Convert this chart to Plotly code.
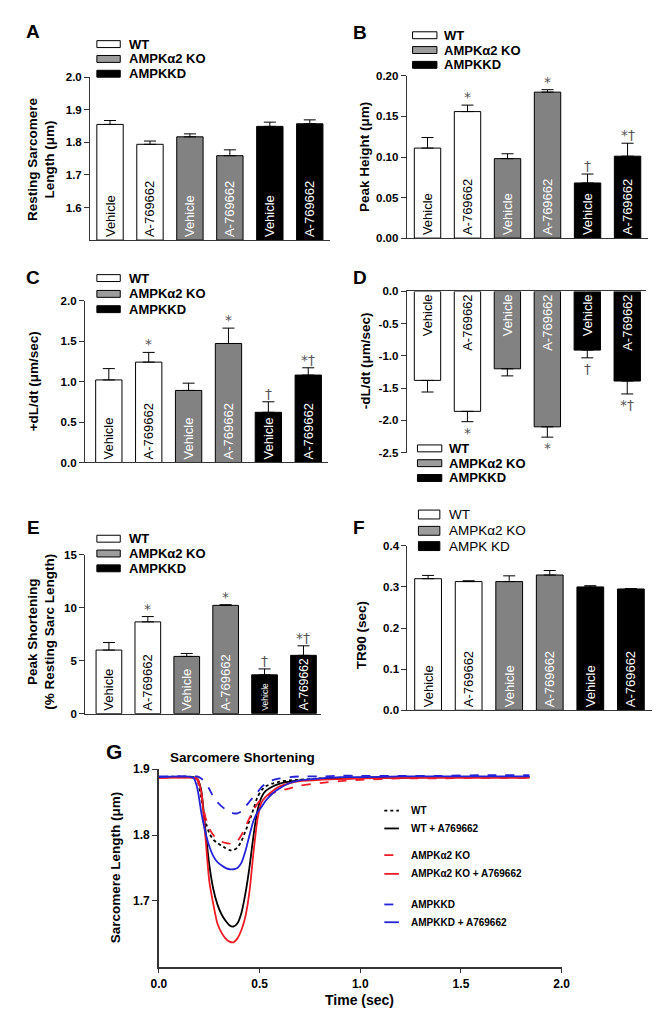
import plotly.graph_objects as go

W, H = 663, 1015


def px(x):
    return x / W


def py(y):
    return 1 - y / H


# ---------------- data ----------------
bar_labels = ["Vehicle", "A-769662", "Vehicle", "A-769662", "Vehicle", "A-769662"]
legend_names = ["WT", "AMPKα2 KO", "AMPKKD"]
legend_names_F = ["WT", "AMPKα2 KO", "AMPK KD"]

A_mean = [1.855, 1.794, 1.817, 1.759, 1.849, 1.857]
A_sem = [0.012, 0.010, 0.009, 0.018, 0.013, 0.012]
B_mean = [0.111, 0.156, 0.098, 0.180, 0.068, 0.101]
B_sem = [0.013, 0.008, 0.006, 0.003, 0.011, 0.016]
C_mean = [1.02, 1.24, 0.89, 1.47, 0.62, 1.08]
C_sem = [0.14, 0.12, 0.09, 0.19, 0.13, 0.09]
D_mean = [-1.38, -1.86, -1.20, -2.10, -0.91, -1.39]
D_sem = [0.18, 0.16, 0.11, 0.16, 0.12, 0.20]
E_mean = [6.0, 8.66, 5.40, 10.22, 3.66, 5.50]
E_sem = [0.71, 0.50, 0.28, 0.06, 0.56, 0.90]
F_mean = [0.320, 0.313, 0.313, 0.329, 0.300, 0.295]
F_sem = [0.008, 0.002, 0.014, 0.011, 0.003, 0.001]

B_marks = ["", "*", "", "*", "†", "*†"]
C_marks = ["", "*", "", "*", "†", "*†"]
D_marks = ["", "*", "", "*", "†", "*†"]
E_marks = ["", "*", "", "*", "†", "*†"]

# Sarcomere shortening traces (panel G)
t_sec = [0.00, 0.17, 0.19, 0.21, 0.23, 0.25, 0.27, 0.29, 0.31, 0.33, 0.35, 0.37,
         0.39, 0.41, 0.43, 0.45, 0.47, 0.49, 0.51, 0.53, 0.56, 0.60, 0.65, 0.70,
         0.80, 0.90, 1.00, 1.20, 1.40, 1.60, 1.84]
wt = [1.888, 1.888, 1.884, 1.856, 1.822, 1.803, 1.793, 1.788, 1.784, 1.780, 1.777, 1.777,
      1.781, 1.791, 1.806, 1.822, 1.840, 1.858, 1.868, 1.874, 1.878, 1.881, 1.883, 1.884,
      1.886, 1.887, 1.887, 1.888, 1.888, 1.888, 1.888]
wt_a = [1.888, 1.888, 1.886, 1.868, 1.810, 1.755, 1.718, 1.695, 1.680, 1.670, 1.663, 1.661,
        1.666, 1.682, 1.712, 1.752, 1.800, 1.838, 1.858, 1.867, 1.873, 1.878, 1.881, 1.883,
        1.885, 1.886, 1.887, 1.887, 1.888, 1.888, 1.888]
ko = [1.887, 1.887, 1.884, 1.861, 1.828, 1.810, 1.800, 1.793, 1.790, 1.788, 1.787, 1.787,
      1.791, 1.800, 1.813, 1.826, 1.838, 1.848, 1.855, 1.859, 1.863, 1.867, 1.871, 1.875,
      1.879, 1.882, 1.884, 1.886, 1.886, 1.887, 1.887]
ko_a = [1.887, 1.887, 1.886, 1.866, 1.800, 1.730, 1.695, 1.666, 1.652, 1.643, 1.638, 1.637,
        1.643, 1.656, 1.677, 1.715, 1.775, 1.825, 1.850, 1.858, 1.866, 1.874, 1.879, 1.882,
        1.884, 1.885, 1.886, 1.887, 1.887, 1.887, 1.887]
kd = [1.889, 1.889, 1.889, 1.886, 1.880, 1.870, 1.858, 1.850, 1.844, 1.839, 1.835, 1.833,
      1.833, 1.836, 1.843, 1.851, 1.858, 1.865, 1.873, 1.878, 1.883, 1.886, 1.888, 1.889,
      1.889, 1.890, 1.890, 1.890, 1.890, 1.891, 1.891]
kd_a = [1.888, 1.887, 1.872, 1.835, 1.805, 1.783, 1.768, 1.759, 1.754, 1.750, 1.748, 1.748,
        1.750, 1.758, 1.776, 1.800, 1.822, 1.835, 1.843, 1.852, 1.862, 1.871, 1.879, 1.883,
        1.886, 1.888, 1.888, 1.889, 1.889, 1.889, 1.889]
g_names = ["WT", "WT + A769662", "AMPKα2 KO", "AMPKα2 KO + A769662", "AMPKKD", "AMPKKD + A769662"]

# ---------------- style ----------------
FONT = "Liberation Sans, Arial, Helvetica, sans-serif"
MARK_FONT = "DejaVu Sans"
GRAY = "#828282"
LEG_GRAY = "#9c9c9c"
bar_colors = ["white", "white", GRAY, GRAY, "black", "black"]
text_colors = ["black", "black", "white", "white", "white", "white"]
AX = "#333333"

fig = go.Figure()
annotations = []
shapes = []

panels = [
    dict(ax="", mean=A_mean, sem=A_sem, base=1.5, xd=(76, 322), yd=(63, 228), xr=[-0.5, 5.5],
         yr=[1.5, 2.0], tv=[1.6, 1.7, 1.8, 1.9, 2.0], tt=["1.6", "1.7", "1.8", "1.9", "2.0"],
         marks=None, sizes=[13] * 6),
    dict(ax="2", mean=B_mean, sem=B_sem, base=0, xd=(401, 649), yd=(61.7, 226), xr=[-0.52, 5.52],
         yr=[0, 0.2], tv=[0, 0.05, 0.1, 0.15, 0.2], tt=["0.00", "0.05", "0.10", "0.15", "0.20"],
         marks=B_marks, sizes=[13] * 6),
    dict(ax="3", mean=C_mean, sem=C_sem, base=0, xd=(70.7, 320), yd=(289.3, 453.3), xr=[-0.6, 5.49],
         yr=[0, 2.0], tv=[0, 0.5, 1.0, 1.5, 2.0], tt=["0.0", "0.5", "1.0", "1.5", "2.0"],
         marks=C_marks, sizes=[13] * 6),
    dict(ax="4", mean=D_mean, sem=D_sem, base=0, xd=(401, 647), yd=(280, 443.3), xr=[-0.52, 5.48],
         yr=[-2.5, 0], tv=[-2.5, -2.0, -1.5, -1.0, -0.5, 0],
         tt=["-2.5", "-2.0", "-1.5", "-1.0", "-0.5", "0.0"], marks=D_marks, sizes=[13] * 6),
    dict(ax="5", mean=E_mean, sem=E_sem, base=0, xd=(71, 313), yd=(546.7, 707.7), xr=[-0.61, 5.45],
         yr=[0, 15], tv=[0, 5, 10, 15], tt=["0", "5", "10", "15"], marks=E_marks,
         sizes=[13, 13, 13, 13, 8.5, 13]),
    dict(ax="6", mean=F_mean, sem=F_sem, base=0, xd=(401.7, 652.7), yd=(537.7, 704.3), xr=[-0.51, 5.52],
         yr=[0, 0.4], tv=[0, 0.1, 0.2, 0.3, 0.4], tt=["0.0", "0.1", "0.2", "0.3", "0.4"],
         marks=None, sizes=[13] * 6),
]

layout_axes = {}
for p in panels:
    neg = p["mean"][0] < 0
    if p["base"]:
        yvals = [m - p["base"] for m in p["mean"]]
        base = p["base"]
    else:
        yvals = p["mean"]
        base = None
    err = dict(type="data", symmetric=False, color="black", thickness=1, width=6, visible=True)
    if neg:
        err["array"] = [0] * 6
        err["arrayminus"] = p["sem"]
    else:
        err["array"] = p["sem"]
        err["arrayminus"] = [0] * 6
    fig.add_trace(go.Bar(
        x=list(range(6)), y=yvals, base=base, width=0.66,
        marker=dict(color=bar_colors, line=dict(color="black", width=1)),
        text=bar_labels, textposition="inside", insidetextanchor="start", textangle=-90,
        textfont=dict(family=FONT, size=p["sizes"], color=text_colors),
        error_y=err, xaxis="x" + p["ax"], yaxis="y" + p["ax"], showlegend=False,
        cliponaxis=False, hoverinfo="skip",
    ))
    xa = dict(domain=[px(p["xd"][0]), px(p["xd"][1])], range=p["xr"], showline=True,
              linecolor=AX, linewidth=1, showticklabels=False, ticks="", showgrid=False,
              zeroline=False, anchor="y" + p["ax"], fixedrange=True)
    if neg:
        xa["side"] = "top"
    ya = dict(domain=[py(p["yd"][1]), py(p["yd"][0])], range=p["yr"], showline=True,
              linecolor=AX, linewidth=1, ticks="outside", ticklen=5, tickwidth=1, tickcolor=AX,
              tickvals=p["tv"], ticktext=p["tt"], showgrid=False, zeroline=False,
              tickfont=dict(family=FONT, size=11.5, color="black", weight="bold"),
              anchor="x" + p["ax"], fixedrange=True)
    layout_axes["xaxis" + p["ax"]] = xa
    layout_axes["yaxis" + p["ax"]] = ya
    if p["marks"]:
        for i, mk in enumerate(p["marks"]):
            if not mk:
                continue
            if neg:
                annotations.append(dict(x=i, y=p["mean"][i] - p["sem"][i], xref="x" + p["ax"],
                                        yref="y" + p["ax"], text=mk, showarrow=False,
                                        yanchor="top", yshift=-1,
                                        font=dict(family=MARK_FONT, size=14, color="#555555")))
            else:
                annotations.append(dict(x=i, y=p["mean"][i] + p["sem"][i], xref="x" + p["ax"],
                                        yref="y" + p["ax"], text=mk, showarrow=False,
                                        yanchor="bottom", yshift=-2,
                                        font=dict(family=MARK_FONT, size=14, color="#555555")))

# ---------- panel G ----------
g_series = [wt, wt_a, ko, ko_a, kd, kd_a]
g_colors = ["black", "black", "#ee1c25", "#ee1c25", "#2424d6", "#2424d6"]
g_dash = ["dot", "solid", "dash", "solid", "dash", "solid"]
for name, ys, c, d in zip(g_names, g_series, g_colors, g_dash):
    fig.add_trace(go.Scatter(x=t_sec, y=ys, mode="lines", name=name, showlegend=False,
                             line=dict(color=c, dash=d, width=1.8, shape="spline", smoothing=0.6),
                             xaxis="x7", yaxis="y7", hoverinfo="skip"))

layout_axes["xaxis7"] = dict(domain=[px(146.7), px(560)], range=[0, 2.0], showline=True,
                             linecolor=AX, linewidth=1.6, ticks="outside", ticklen=5, tickwidth=1.2,
                             tickcolor=AX, tickvals=[0, 0.5, 1.0, 1.5, 2.0],
                             ticktext=["0.0", "0.5", "1.0", "1.5", "2.0"], showgrid=False,
                             zeroline=False, anchor="y7", fixedrange=True,
                             tickfont=dict(family=FONT, size=12, color="black", weight="bold"))
layout_axes["yaxis7"] = dict(domain=[py(964), py(764)], range=[1.6, 1.9], showline=True,
                             linecolor=AX, linewidth=1.6, ticks="outside", ticklen=5, tickwidth=1.2,
                             tickcolor=AX, tickvals=[1.7, 1.8, 1.9], ticktext=["1.7", "1.8", "1.9"],
                             showgrid=False, zeroline=False, anchor="x7", fixedrange=True,
                             tickfont=dict(family=FONT, size=12, color="black", weight="bold"))


def text_ann(x, y, text, size, bold=True, angle=0, xanchor="center", yanchor="middle", color="black"):
    annotations.append(dict(x=px(x), y=py(y), xref="paper", yref="paper", text=text,
                            showarrow=False, textangle=angle, xanchor=xanchor, yanchor=yanchor,
                            font=dict(family=FONT, size=size, color=color,
                                      weight="bold" if bold else "normal")))


# panel letters
for lab, x, y, s in [("A", 17, 17, 19), ("B", 353, 17.5, 19), ("C", 17.5, 265.5, 19),
                     ("D", 353, 266, 19), ("E", 17.5, 519, 19), ("F", 352, 519, 19),
                     ("G", 101, 746, 21)]:
    text_ann(x, y, lab, s)

# y-axis titles
text_ann(26, 145.5, "Resting Sarcomere<br>Length (μm)", 13.5, angle=-90)
text_ann(357, 144, "Peak Height (μm)", 13.5, angle=-90)
text_ann(17.5, 371, "+dL/dt (μm/sec)", 13.5, angle=-90)
text_ann(359, 350, "-dL/dt (μm/sec)", 13.5, angle=-90)
text_ann(26.5, 625, "Peak Shortening<br>(% Resting Sarc Length)", 13.5, angle=-90)
text_ann(355.5, 628, "TR90 (sec)", 13.5, angle=-90)
text_ann(103, 863, "Sarcomere Length (μm)", 13.5, angle=-90)
text_ann(353, 998, "Time (sec)", 14)
text_ann(232, 752, "Sarcomere Shortening", 13.5)

# bar legends
leg_fills = ["white", LEG_GRAY, "black"]


def bar_legend(bx0, bx1, ys, tx, h, names, bold, size):
    for yc, fill, nm in zip(ys, leg_fills, names):
        shapes.append(dict(type="rect", xref="paper", yref="paper", x0=px(bx0), x1=px(bx1),
                           y0=py(yc + h / 2), y1=py(yc - h / 2), fillcolor=fill,
                           line=dict(color="black", width=1)))
        text_ann(tx, yc, nm, size, bold=bold, xanchor="left")


bar_legend(83, 107, [29.5, 44.5, 59.5], 114, 7, legend_names, True, 13)
bar_legend(407, 432, [20.5, 35.5, 50.5], 437, 7, legend_names, True, 13)
bar_legend(83, 107, [266.5, 282.5, 298], 114, 7, legend_names, True, 13)
bar_legend(412, 437, [439, 454, 469], 442, 7, legend_names, True, 13)
bar_legend(83, 107, [530.5, 545.5, 560.5], 114, 7, legend_names, True, 13)
bar_legend(413, 435, [506, 522.5, 538], 442, 9, legend_names_F, False, 13.5)

# line legend for G
for yc, nm, c, d in zip([806, 824, 851, 870, 901, 919], g_names, g_colors, g_dash):
    shapes.append(dict(type="line", xref="paper", yref="paper", x0=px(378), x1=px(393),
                       y0=py(yc), y1=py(yc), line=dict(color=c, width=1.8, dash=d)))
    text_ann(403, yc, nm, 10, xanchor="left")

fig.update_layout(
    width=W, height=H, margin=dict(l=0, r=0, t=0, b=0),
    paper_bgcolor="white", plot_bgcolor="white",
    font=dict(family=FONT, color="black"),
    showlegend=False, annotations=annotations, shapes=shapes, bargap=0.34,
    **layout_axes,
)

fig.write_html("out.html")
